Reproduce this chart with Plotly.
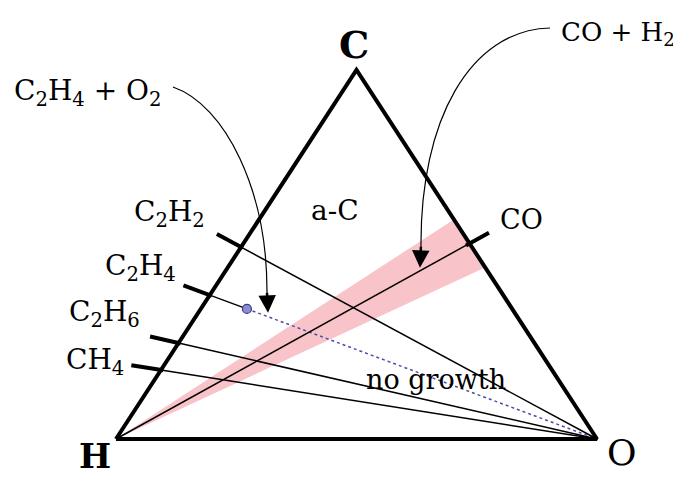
import plotly.graph_objects as go

# C-H-O diagram, positions as carbon / oxygen atomic fractions
edge_species = ['CH<sub>4</sub>', 'C<sub>2</sub>H<sub>6</sub>', 'C<sub>2</sub>H<sub>4</sub>', 'C<sub>2</sub>H<sub>2</sub>']
edge_carbon = [0.187, 0.26, 0.39, 0.52]   # on the H-C side
co_carbon = 0.53                          # CO point on the C-O side
band_carbon = [0.465, 0.595]              # pink CO+H2 window on the C-O side
dot_oxygen = 0.096                        # C2H4 + O2 start point along C2H4-O line
region_labels = ['a-C', 'no growth']


def tern(c, o):
    # H at (0,0), O at (1,0), C at (0.5,1)
    return o + c / 2, c


H = tern(0, 0)
O = tern(0, 1)
C = tern(1, 0)

fig = go.Figure()

# pink band
bu = tern(band_carbon[1], 1 - band_carbon[1])
bl = tern(band_carbon[0], 1 - band_carbon[0])
fig.add_trace(go.Scatter(x=[H[0], bu[0], bl[0], H[0]], y=[H[1], bu[1], bl[1], H[1]],
                         fill='toself', fillcolor='#f8c4ca', mode='none', hoverinfo='skip'))

# lines from O to the hydrocarbons
for name, f in zip(edge_species, edge_carbon):
    p = tern(f, 0)
    if name == 'C<sub>2</sub>H<sub>4</sub>':
        d = (p[0] + dot_oxygen * (O[0] - p[0]), p[1] + dot_oxygen * (O[1] - p[1]))
        fig.add_trace(go.Scatter(x=[p[0], d[0]], y=[p[1], d[1]], mode='lines',
                                 line=dict(color='black', width=1.5)))
        fig.add_trace(go.Scatter(x=[d[0], O[0]], y=[d[1], O[1]], mode='lines',
                                 line=dict(color='#4a50a8', width=1.5, dash='dot')))
        fig.add_trace(go.Scatter(x=[d[0]], y=[d[1]], mode='markers',
                                 marker=dict(size=9, color='#8c8ccc',
                                             line=dict(color='#3a3a90', width=1.2))))
    else:
        fig.add_trace(go.Scatter(x=[p[0], O[0]], y=[p[1], O[1]], mode='lines',
                                 line=dict(color='black', width=1.5)))
    t0, t1 = 0.995, 1.068
    fig.add_trace(go.Scatter(x=[O[0] + t0 * (p[0] - O[0]), O[0] + t1 * (p[0] - O[0])],
                             y=[O[1] + t0 * (p[1] - O[1]), O[1] + t1 * (p[1] - O[1])],
                             mode='lines', line=dict(color='black', width=4)))

# H - CO line
q = tern(co_carbon, 1 - co_carbon)
fig.add_trace(go.Scatter(x=[H[0], q[0]], y=[H[1], q[1]], mode='lines',
                         line=dict(color='black', width=1.5)))
fig.add_trace(go.Scatter(x=[H[0] + 0.99 * (q[0] - H[0]), H[0] + 1.055 * (q[0] - H[0])],
                         y=[H[1] + 0.99 * (q[1] - H[1]), H[1] + 1.055 * (q[1] - H[1])],
                         mode='lines', line=dict(color='black', width=4)))

# triangle
fig.add_trace(go.Scatter(x=[H[0], O[0], C[0], H[0]], y=[H[1], O[1], C[1], H[1]],
                         mode='lines', line=dict(color='black', width=4)))

# curved pointers as cubic beziers: start, control, control, end
curve1 = [(0.1185, 0.9539), (0.2266, 0.9051), (0.3160, 0.6748), (0.3139, 0.3900)]
curve2 = [(0.9023, 1.1138), (0.7360, 1.1084), (0.6320, 0.8645), (0.6341, 0.5200)]
for cv in [curve1, curve2]:
    (x0, y0), (x1, y1), (x2, y2), (x3, y3) = cv
    fig.add_shape(type='path', xref='x', yref='y',
                  path=f'M {x0},{y0} C {x1},{y1} {x2},{y2} {x3},{y3}',
                  line=dict(color='black', width=1.2))

arrows = [((0.316, 0.342), (0.3139, 0.40)), ((0.632, 0.464), (0.6341, 0.525))]
for (tx, ty), (sx, sy) in arrows:
    fig.add_annotation(x=tx, y=ty, ax=sx, ay=sy, axref='x', ayref='y', xref='x', yref='y',
                       showarrow=True, arrowhead=2, arrowsize=1.4, arrowwidth=2.5,
                       arrowcolor='black', text='')

serif = 'DejaVu Serif'
labels = [
    ('<b>C</b>', 0.4948, 1.07, 38),
    ('<b>H</b>', -0.0437, -0.046, 34),
    ('O', 1.052, -0.036, 36),
    (region_labels[0], 0.455, 0.62, 28),
    (region_labels[1], 0.665, 0.16, 27),
    ('CO', 0.844, 0.5935, 27),
    ('C<sub>2</sub>H<sub>4</sub> + O<sub>2</sub>', -0.0582, 0.94, 28),
    ('CO + H<sub>2</sub>', 1.043, 1.10, 26),
]
pos = {'CH<sub>4</sub>': (-0.0437, 0.21), 'C<sub>2</sub>H<sub>6</sub>': (-0.0229, 0.34),
       'C<sub>2</sub>H<sub>4</sub>': (0.05, 0.465), 'C<sub>2</sub>H<sub>2</sub>': (0.112, 0.61)}
for name in edge_species:
    labels.append((name, pos[name][0], pos[name][1], 28))

for text, x, y, size in labels:
    fig.add_annotation(x=x, y=y, xref='x', yref='y', text=text, showarrow=False,
                       xanchor='center', yanchor='middle',
                       font=dict(family=serif, size=size, color='black'))

# page body has an 8px margin, so the ranges are shifted to keep the reference pixel positions
fig.update_layout(
    width=681, height=478,
    margin=dict(l=0, r=0, t=0, b=0),
    paper_bgcolor='white', plot_bgcolor='white',
    showlegend=False,
    xaxis=dict(visible=False, range=[-0.2245, 1.1913], fixedrange=True),
    yaxis=dict(visible=False, range=[-0.1274, 1.168], fixedrange=True),
)

fig.write_html("out.html")
